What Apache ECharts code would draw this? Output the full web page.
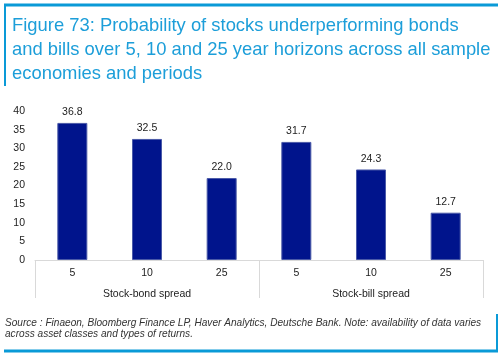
<!DOCTYPE html>
<html><head><meta charset="utf-8">
<script src="https://cdn.jsdelivr.net/npm/echarts@6/dist/echarts.min.js"></script>
<style>html,body{margin:0;padding:0;background:#fff}#c{width:504px;height:357px}</style>
</head><body><div id="c"></div>
<script>
const categories = ['5','10','25','5','10','25'];
const groups = ['Stock-bond spread','Stock-bill spread'];
const values = [36.8, 32.5, 22.0, 31.7, 24.3, 12.7];
const yTicks = [0, 5, 10, 15, 20, 25, 30, 35, 40];

const blue = '#0A9AD7';
const chart = echarts.init(document.getElementById('c'));
chart.setOption({
  animation: false,
  title: {
    text: 'Figure 73: Probability of stocks underperforming bonds\nand bills over 5, 10 and 25 year horizons across all sample\neconomies and periods',
    left: 12, top: 14, padding: 0,
    textStyle: { color: '#1C9ED9', fontSize: 18.4, fontWeight: 'normal', lineHeight: 24, fontFamily: 'Liberation Sans, Arial, sans-serif' }
  },
  grid: { left: 35, right: 21, top: 111, bottom: 97, containLabel: false },
  xAxis: [
    {
      type: 'category', data: categories, position: 'bottom',
      axisLine: { show: true, lineStyle: { color: '#d9d9d9', width: 1 } },
      axisTick: { show: false },
      axisLabel: { color: '#222', fontSize: 10.5, margin: 8, fontFamily: 'Liberation Sans, Arial, sans-serif' }
    },
    {
      type: 'category', data: groups, position: 'bottom', gridIndex: 0,
      axisLine: { show: false },
      axisTick: { show: true, length: 38, lineStyle: { color: '#d9d9d9', width: 1 } },
      axisLabel: { color: '#222', fontSize: 10.5, margin: 29, fontFamily: 'Liberation Sans, Arial, sans-serif' }
    }
  ],
  yAxis: {
    type: 'value', min: yTicks[0], max: yTicks[yTicks.length - 1], interval: 5,
    axisLine: { show: false }, axisTick: { show: false }, splitLine: { show: false },
    axisLabel: { color: '#222', fontSize: 10.5, margin: 10, fontFamily: 'Liberation Sans, Arial, sans-serif' }
  },
  series: [{
    type: 'bar', data: values, barWidth: 30, xAxisIndex: 0,
    itemStyle: { color: '#00148C', borderColor: '#4a5aa8', borderWidth: 1 },
    label: { show: true, position: 'top', distance: 5, color: '#222', fontSize: 10.5,
      fontFamily: 'Liberation Sans, Arial, sans-serif', formatter: p => p.value.toFixed(1) }
  }],
  graphic: [
    { type: 'line', shape: { x1: 4, y1: 5, x2: 498, y2: 5 }, style: { stroke: blue, lineWidth: 3 } },
    { type: 'line', shape: { x1: 5, y1: 5, x2: 5, y2: 86 }, style: { stroke: blue, lineWidth: 2 } },
    { type: 'line', shape: { x1: 4, y1: 351, x2: 498, y2: 351 }, style: { stroke: blue, lineWidth: 3 } },
    { type: 'line', shape: { x1: 497, y1: 314, x2: 497, y2: 351 }, style: { stroke: blue, lineWidth: 2 } },
    { type: 'text', left: 5, top: 317, style: {
      text: 'Source : Finaeon, Bloomberg Finance LP, Haver Analytics, Deutsche Bank. Note: availability of data varies\nacross asset classes and types of returns.',
      fill: '#333', fontSize: 10.1, fontStyle: 'italic', lineHeight: 11.5, fontFamily: 'Liberation Sans, Arial, sans-serif' } }
  ]
});
</script></body></html>
